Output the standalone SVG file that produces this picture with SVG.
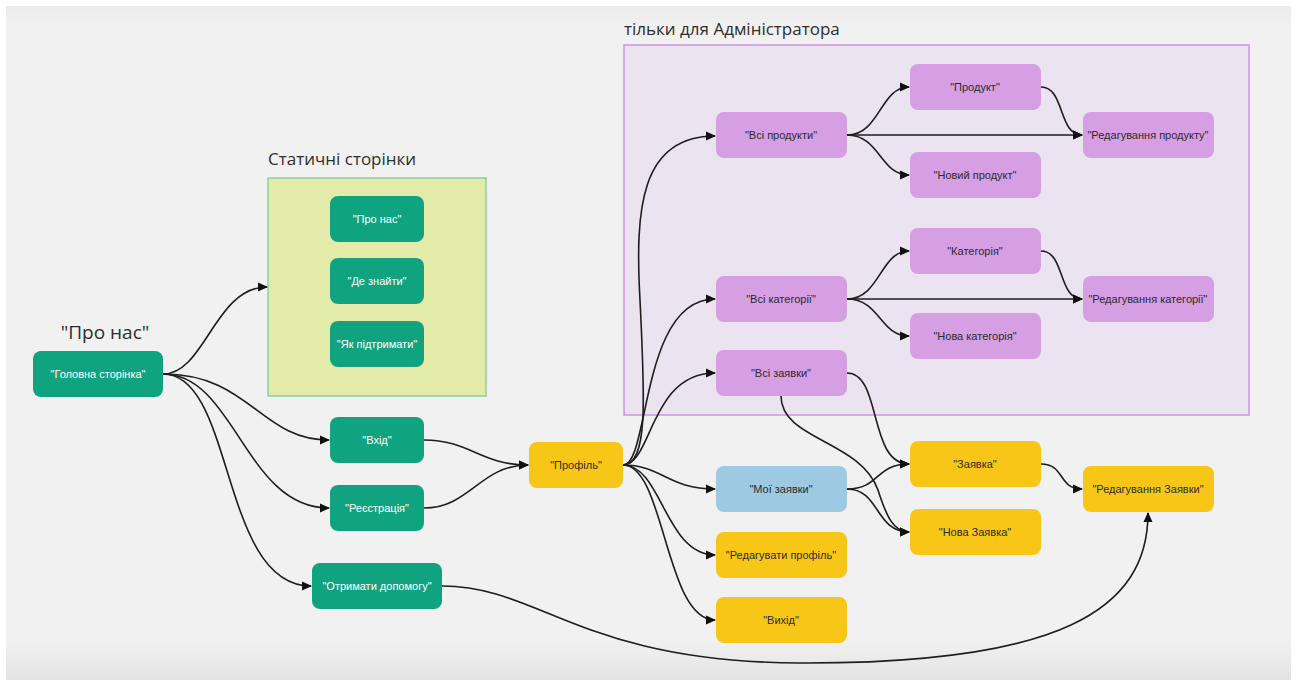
<svg xmlns="http://www.w3.org/2000/svg" width="1298" height="686" viewBox="0 0 1298 686">
  <style>
    .node rect { rx: 8; ry: 8; }
    .green rect { fill: #10a37f; }
    .purple rect { fill: #d69ee3; }
    .yellow rect { fill: #f8c617; }
    .blue rect { fill: #9ec9e2; }
    .node text { font-family: "Liberation Sans", Arial, sans-serif; font-size: 11px; fill: #2b2b2b; text-anchor: middle; dominant-baseline: central; }
    .green text { fill: #ffffff; }
    .title { font-family: "Open Sans", "Noto Sans", sans-serif; font-size: 17px; fill: #2e2e2e; }
    .edges path { fill: none; stroke: #1e1e1e; stroke-width: 1.6; marker-end: url(#arrow); }
  </style>
  <defs>
    <marker id="arrow" viewBox="0 0 10 10" refX="9" refY="5" markerWidth="10" markerHeight="10" markerUnits="userSpaceOnUse" orient="auto">
      <path d="M0,0.5 L10,5 L0,9.5 z" fill="#111"/>
    </marker>
    <linearGradient id="bg" x1="0" y1="0" x2="0" y2="1">
      <stop offset="0" stop-color="#ebebec"/>
      <stop offset="0.03" stop-color="#f1f1f1"/>
      <stop offset="0.94" stop-color="#f1f1f1"/>
      <stop offset="1" stop-color="#e3e3e3"/>
    </linearGradient>
  </defs>

  <!-- page -->
  <rect x="0" y="0" width="1298" height="686" fill="#ffffff"/>
  <rect x="6" y="6" width="1285" height="674" fill="url(#bg)"/>

  <!-- groups / frames -->
  <g id="static-pages">
    <rect x="268" y="178" width="218" height="218" fill="#e3eba8" stroke="#86d29f" stroke-width="1.5"/>
    <text class="title" x="268" y="165">Статичні сторінки</text>
  </g>
  <g id="admin-only">
    <rect x="624" y="45" width="625" height="370" fill="#ebe3ef" stroke="#cf93e2" stroke-width="1.5"/>
    <text class="title" x="624" y="35">тільки для Адміністратора</text>
  </g>
  <text class="title" x="105" y="339" text-anchor="middle" style="font-size:19px">"Про нас"</text>

  <!-- connectors -->
  <g id="connectors" class="edges">
    <path d="M163,374 C205,374 215,287 267,287"/>
    <path d="M163,374 C250,374 260,440 329,440"/>
    <path d="M163,374 C235,374 245,508 329,508"/>
    <path d="M163,374 C235,374 220,586 311,586"/>
    <path d="M424,440 C470,440 480,465 528,465"/>
    <path d="M424,508 C470,508 480,465 528,465"/>
    <path d="M442,586 C540,586 580,662 800,663 C1060,664 1148,610 1148,513"/>
    <path d="M623,465 C648,465 645,400 640,300 C635,210 640,136 715,136"/>
    <path d="M623,465 C650,465 640,299 715,299"/>
    <path d="M623,465 C652,465 650,373 715,373"/>
    <path d="M623,465 C662,465 668,489 715,489"/>
    <path d="M623,465 C662,465 665,555 715,555"/>
    <path d="M623,465 C665,465 665,620 715,620"/>
    <path d="M847,135 C880,135 880,87 909,87"/>
    <path d="M847,135 L1082,135"/>
    <path d="M847,135 C880,135 880,175 909,175"/>
    <path d="M1041,87 C1065,87 1058,135 1082,135"/>
    <path d="M847,299 C880,299 880,251 909,251"/>
    <path d="M847,299 L1082,299"/>
    <path d="M847,299 C880,299 880,336 909,336"/>
    <path d="M1041,251 C1065,251 1058,299 1082,299"/>
    <path d="M847,373 C882,373 868,464 909,464"/>
    <path d="M781,396 C781,440 860,440 878,490 C886,515 893,532 909,532"/>
    <path d="M847,489 C880,489 875,464 909,464"/>
    <path d="M847,489 C880,489 875,532 909,532"/>
    <path d="M1041,464 C1065,464 1058,489 1082,489"/>
  </g>

  <!-- nodes -->
  <g id="home" class="node green"><rect x="33" y="351" width="130" height="46"/><text x="98" y="374">"Головна сторінка"</text></g>
  <g id="about" class="node green"><rect x="330" y="196" width="94" height="46"/><text x="377" y="219">"Про нас"</text></g>
  <g id="where" class="node green"><rect x="330" y="258" width="94" height="46"/><text x="377" y="281">"Де знайти"</text></g>
  <g id="support" class="node green"><rect x="330" y="321" width="94" height="46"/><text x="377" y="344">"Як підтримати"</text></g>
  <g id="login" class="node green"><rect x="330" y="417" width="94" height="46"/><text x="377" y="440">"Вхід"</text></g>
  <g id="register" class="node green"><rect x="330" y="485" width="94" height="46"/><text x="377" y="508">"Реєстрація"</text></g>
  <g id="get-help" class="node green"><rect x="312" y="563" width="130" height="46"/><text x="377" y="586">"Отримати допомогу"</text></g>

  <g id="profile" class="node yellow"><rect x="529" y="442" width="94" height="46"/><text x="576" y="465">"Профіль"</text></g>

  <g id="all-products" class="node purple"><rect x="716" y="112" width="131" height="46"/><text x="781" y="135">"Всі продукти"</text></g>
  <g id="product" class="node purple"><rect x="910" y="64" width="131" height="46"/><text x="975" y="87">"Продукт"</text></g>
  <g id="new-product" class="node purple"><rect x="910" y="152" width="131" height="46"/><text x="975" y="175">"Новий продукт"</text></g>
  <g id="edit-product" class="node purple"><rect x="1083" y="112" width="131" height="46"/><text x="1148" y="135">"Редагування продукту"</text></g>
  <g id="all-categories" class="node purple"><rect x="716" y="276" width="131" height="46"/><text x="781" y="299">"Всі категорії"</text></g>
  <g id="category" class="node purple"><rect x="910" y="228" width="131" height="46"/><text x="975" y="251">"Категорія"</text></g>
  <g id="new-category" class="node purple"><rect x="910" y="313" width="131" height="46"/><text x="975" y="336">"Нова категорія"</text></g>
  <g id="edit-category" class="node purple"><rect x="1083" y="276" width="131" height="46"/><text x="1148" y="299">"Редагування категорії"</text></g>
  <g id="all-requests" class="node purple"><rect x="716" y="350" width="131" height="46"/><text x="781" y="373">"Всі заявки"</text></g>

  <g id="my-requests" class="node blue"><rect x="716" y="466" width="131" height="46"/><text x="781" y="489">"Мої заявки"</text></g>
  <g id="edit-profile" class="node yellow"><rect x="716" y="532" width="131" height="46"/><text x="781" y="555">"Редагувати профіль"</text></g>
  <g id="logout" class="node yellow"><rect x="716" y="597" width="131" height="46"/><text x="781" y="620">"Вихід"</text></g>
  <g id="request" class="node yellow"><rect x="910" y="441" width="131" height="46"/><text x="975" y="464">"Заявка"</text></g>
  <g id="new-request" class="node yellow"><rect x="910" y="509" width="131" height="46"/><text x="975" y="532">"Нова Заявка"</text></g>
  <g id="edit-request" class="node yellow"><rect x="1083" y="466" width="131" height="46"/><text x="1148" y="489">"Редагування Заявки"</text></g>
</svg>
